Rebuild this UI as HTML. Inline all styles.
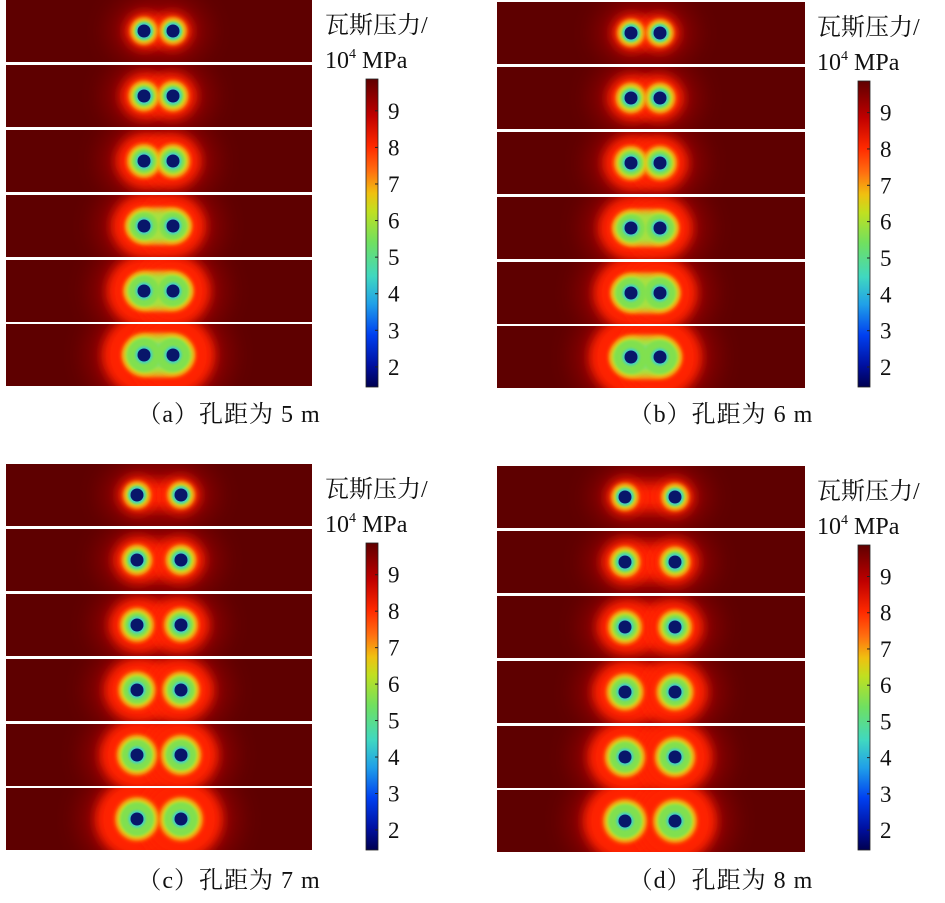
<!DOCTYPE html>
<html><head><meta charset="utf-8"><style>
body{margin:0;background:#fff;}
svg text{font-family:"Liberation Serif","Noto Serif CJK SC",serif;fill:#111;}
</style></head><body>
<svg id="s" width="945" height="898" xmlns="http://www.w3.org/2000/svg">
<defs>
<linearGradient id="cb" x1="0" y1="1" x2="0" y2="0">
<stop offset="0" stop-color="#000050"/>
<stop offset="0.07" stop-color="#0010a0"/>
<stop offset="0.17" stop-color="#0040f0"/>
<stop offset="0.27" stop-color="#20a0e8"/>
<stop offset="0.36" stop-color="#40d8c0"/>
<stop offset="0.47" stop-color="#70e060"/>
<stop offset="0.57" stop-color="#c0e020"/>
<stop offset="0.63" stop-color="#f0c010"/>
<stop offset="0.70" stop-color="#ff7010"/>
<stop offset="0.78" stop-color="#ff2a00"/>
<stop offset="0.88" stop-color="#c00000"/>
<stop offset="1" stop-color="#600000"/>
</linearGradient>
<filter id="b0" x="-1" y="-1" width="3" height="3"><feGaussianBlur stdDeviation="12"/></filter>
<filter id="b1" x="-1" y="-1" width="3" height="3"><feGaussianBlur stdDeviation="6"/></filter>
<filter id="b2" x="-1" y="-1" width="3" height="3"><feGaussianBlur stdDeviation="2"/></filter>
<filter id="b3" x="-1" y="-1" width="3" height="3"><feGaussianBlur stdDeviation="1.2"/></filter>
</defs>
<g id="g"></g>
</svg>
<script>
var g=document.getElementById('g'),h='';
var P=[
 {sx:6,sw:306,oy:0,h1:144,h2:173,cbx:366,cby:79,cbh:308,lab:'（a）孔距为 5 m',ly:422},
 {sx:497,sw:308,oy:2,h1:631,h2:660,cbx:858,cby:81,cbh:306,lab:'（b）孔距为 6 m',ly:422},
 {sx:6,sw:306,oy:464,h1:137,h2:181,cbx:366,cby:543,cbh:307,lab:'（c）孔距为 7 m',ly:888},
 {sx:497,sw:308,oy:466,h1:625,h2:675,cbx:858,cby:545,cbh:305,lab:'（d）孔距为 8 m',ly:888}];
var SY=[0,65,130,195,260,324];
P.forEach(function(p,pi){
 SY.forEach(function(y0,i){
  var y=y0+p.oy,H=62,cy=y+31,mid=(p.h1+p.h2)/2,d=(p.h2-p.h1)/2;
  var id='c'+pi+'_'+i;
  h+='<clipPath id="'+id+'"><rect x="'+p.sx+'" y="'+y+'" width="'+p.sw+'" height="'+H+'"/></clipPath>';
  h+='<g clip-path="url(#'+id+')"><rect x="'+p.sx+'" y="'+y+'" width="'+p.sw+'" height="'+H+'" fill="#5e0000"/>';
  var rr=18+4.5*i, ry2=13+1.6*i;
  h+='<ellipse cx="'+mid+'" cy="'+cy+'" rx="'+(d+rr+18)+'" ry="'+(rr+18)+'" fill="#a00400" filter="url(#b0)" opacity="0.7"/>';
  h+='<ellipse cx="'+mid+'" cy="'+cy+'" rx="'+(d+rr-4)+'" ry="'+(rr-4)+'" fill="#ff2000" filter="url(#b1)"/>';
  [p.h1,p.h2].forEach(function(x){h+='<circle cx="'+x+'" cy="'+cy+'" r="'+rr+'" fill="#ff2200" filter="url(#b1)"/>';});
  if(i>=3 && d<20) h+='<ellipse cx="'+mid+'" cy="'+cy+'" rx="'+(d+ry2)+'" ry="'+(ry2+1)+'" fill="#f0b020" filter="url(#b2)"/>';
  [p.h1,p.h2].forEach(function(x){h+='<circle cx="'+x+'" cy="'+cy+'" r="'+(ry2+1)+'" fill="#ff9010" filter="url(#b2)"/>';});
  [p.h1,p.h2].forEach(function(x){h+='<circle cx="'+x+'" cy="'+cy+'" r="'+(ry2-1.5)+'" fill="#d0e020" filter="url(#b2)"/>';});
  if(i>=3 && d<20) h+='<ellipse cx="'+mid+'" cy="'+cy+'" rx="'+(d+ry2-3)+'" ry="'+(ry2-3)+'" fill="#a8e040" filter="url(#b2)"/>';
  if(i==5 && d<20) h+='<ellipse cx="'+mid+'" cy="'+cy+'" rx="'+(d+8)+'" ry="11" fill="#70e090" filter="url(#b2)"/>';
  [p.h1,p.h2].forEach(function(x){
   h+='<circle cx="'+x+'" cy="'+cy+'" r="'+(ry2-4)+'" fill="#80e050" filter="url(#b3)"/>';
   h+='<circle cx="'+x+'" cy="'+cy+'" r="8.5" fill="#40d0c8" filter="url(#b3)"/>';
   h+='<circle cx="'+x+'" cy="'+cy+'" r="6.5" fill="#08166a"/>';
  });
  h+='</g>';
 });
 h+='<rect x="'+p.cbx+'" y="'+p.cby+'" width="12" height="'+p.cbh+'" fill="url(#cb)" stroke="#222" stroke-width="0.8"/>';
 for(var v=2;v<=9;v++){
  var yy=p.cby+p.cbh*(1-(v-1.45)/8.42);
  h+='<line x1="'+(p.cbx+9)+'" x2="'+(p.cbx+12)+'" y1="'+yy+'" y2="'+yy+'" stroke="#222"/>';
  h+='<text x="'+(p.cbx+22)+'" y="'+(yy+8)+'" font-size="23">'+v+'</text>';
 }
 var tx=p.cbx-41,ty=p.oy;
 h+='<text x="'+tx+'" y="'+(ty+33)+'" font-size="24">瓦斯压力/</text>';
 h+='<text x="'+tx+'" y="'+(ty+68)+'" font-size="24">10<tspan font-size="14" dy="-10">4</tspan><tspan dy="10"> MPa</tspan></text>';
 h+='<text x="'+(p.sx+p.sw/2+70)+'" y="'+p.ly+'" font-size="24" letter-spacing="1" text-anchor="middle">'+p.lab+'</text>';
});
g.innerHTML=h;
</script>
</body></html>
